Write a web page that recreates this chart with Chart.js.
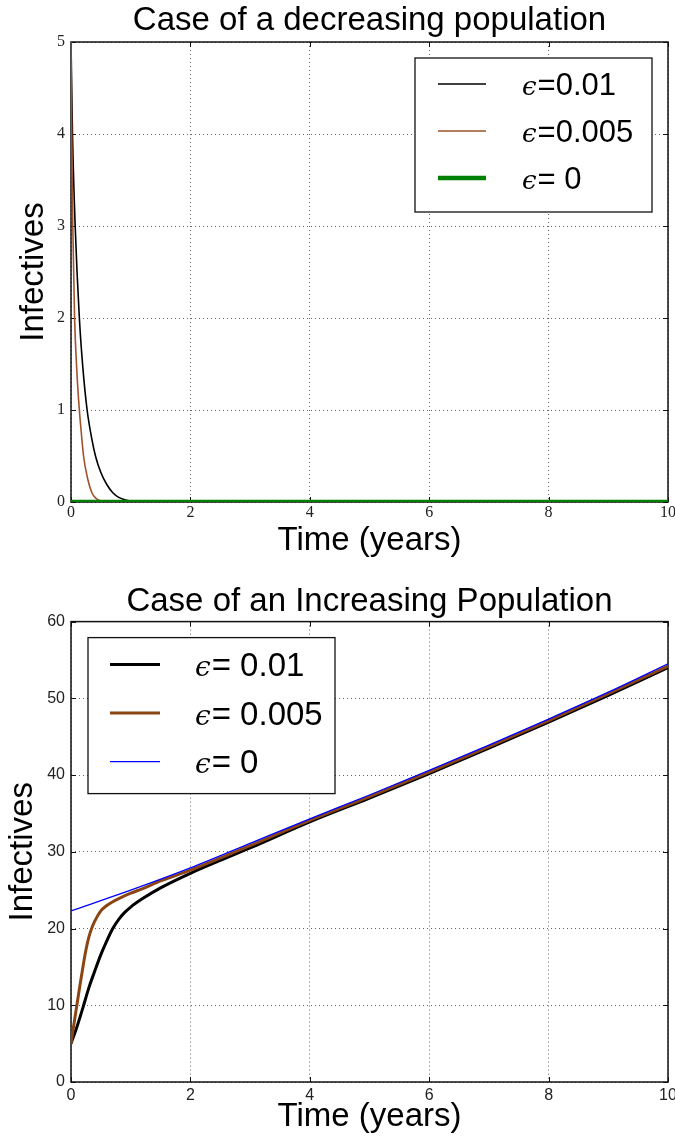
<!DOCTYPE html>
<html>
<head>
<meta charset="utf-8">
<script src="https://cdn.jsdelivr.net/npm/chart.js@4.4.1/dist/chart.umd.min.js"></script>
<style>
  html, body { margin: 0; padding: 0; background: #fff; }
  #wrap { position: relative; width: 675px; height: 1142px; }
  canvas { position: absolute; left: 0; }
  #decreasing { top: 0; }
  #increasing { top: 570px; }
</style>
</head>
<body>
<div id="wrap">
  <canvas id="decreasing" width="675" height="570"></canvas>
  <canvas id="increasing" width="675" height="572"></canvas>
</div>
<script>
// --- decreasing population ---
const decLabels = ['ϵ=0.01', 'ϵ=0.005', 'ϵ= 0'];
const decTime01 = [0, 0.025, 0.07, 0.14, 0.2, 0.27, 0.35, 0.41, 0.5, 0.6, 0.7, 0.8, 0.9, 1.0, 1.2, 2, 10];
const decInf01  = [5, 4, 3, 2, 1.45, 1, 0.68, 0.5, 0.32, 0.19, 0.1, 0.05, 0.025, 0.01, 0, 0, 0];
const decTime005 = [0, 0.012, 0.03, 0.06, 0.1, 0.14, 0.18, 0.21, 0.28, 0.35, 0.42, 0.5, 0.6, 2, 10];
const decInf005  = [5, 4, 3, 2, 1.4, 1, 0.7, 0.5, 0.25, 0.1, 0.04, 0.01, 0, 0, 0];
const decTime0 = [0, 10];
const decInf0  = [0, 0];

// --- increasing population ---
const incLabels = ['ϵ= 0.01', 'ϵ= 0.005', 'ϵ= 0'];
const incTime01 = [0, 0.1, 0.2, 0.3, 0.4, 0.5, 0.6, 0.7, 0.8, 0.9, 1.0, 1.2, 1.5, 2, 3, 4, 5, 6, 7, 8, 9, 10];
const incInf01  = [5, 7.2, 9.7, 12.3, 14.5, 16.6, 18.4, 20.0, 21.2, 22.1, 22.8, 23.9, 25.3, 27.2, 30.5, 33.9, 37.0, 40.2, 43.5, 46.9, 50.4, 54.0];
const incTime005 = [0, 0.05, 0.1, 0.15, 0.2, 0.25, 0.3, 0.35, 0.4, 0.5, 0.6, 0.7, 0.8, 1.0, 1.2, 1.5, 2, 3, 4, 5, 6, 7, 8, 9, 10];
const incInf005  = [5, 7.6, 10.1, 12.6, 15.0, 17.2, 18.9, 20.1, 21.0, 22.3, 23.0, 23.5, 23.9, 24.6, 25.2, 26.2, 27.6, 30.8, 34.1, 37.2, 40.4, 43.7, 47.1, 50.6, 54.2];
const incTime0 = [0, 1, 2, 3, 4, 5, 6, 7, 8, 9, 10];
const incInf0  = [22.3, 25.0, 27.9, 31.1, 34.3, 37.4, 40.6, 43.9, 47.3, 50.8, 54.5];

const timeTicks = { min: 0, max: 10, step: 2 };

const pts = (xs, ys) => xs.map((x, i) => ({ x: x, y: ys[i] }));

// box around the plot with small inward ticks on every side
const framePlugin = {
  id: 'frame',
  beforeDatasetsDraw(chart) {
    const { ctx, chartArea: a, scales } = chart;
    ctx.save();
    ctx.strokeStyle = '#111';
    ctx.lineWidth = 1;
    ctx.beginPath();
    scales.x.ticks.forEach(t => {
      const px = Math.round(scales.x.getPixelForValue(t.value)) + 0.5;
      ctx.moveTo(px, a.bottom); ctx.lineTo(px, a.bottom - 5);
      ctx.moveTo(px, a.top); ctx.lineTo(px, a.top + 5);
    });
    scales.y.ticks.forEach(t => {
      const py = Math.round(scales.y.getPixelForValue(t.value)) + 0.5;
      ctx.moveTo(a.left, py); ctx.lineTo(a.left + 5, py);
      ctx.moveTo(a.right, py); ctx.lineTo(a.right - 5, py);
    });
    ctx.stroke();
    ctx.lineWidth = 1.5;
    ctx.strokeRect(a.left, a.top, a.right - a.left, a.bottom - a.top);
    ctx.restore();
  }
};

// framed legend drawn inside the plot area
const boxLegend = {
  id: 'boxLegend',
  afterDraw(chart, args, o) {
    const { ctx, chartArea: a } = chart;
    const x0 = o.right != null ? a.right - o.right - o.width : a.left + o.left;
    const y0 = a.top + o.top;
    ctx.save();
    ctx.fillStyle = '#fff';
    ctx.fillRect(x0, y0, o.width, o.height);
    ctx.strokeStyle = '#111';
    ctx.lineWidth = 1.3;
    ctx.strokeRect(x0, y0, o.width, o.height);
    chart.data.datasets.forEach((ds, i) => {
      const y = y0 + o.firstRow + i * o.rowGap;
      ctx.strokeStyle = ds.borderColor;
      ctx.lineWidth = ds.borderWidth;
      ctx.beginPath();
      ctx.moveTo(x0 + o.sampleFrom, y);
      ctx.lineTo(x0 + o.sampleTo, y);
      ctx.stroke();
      const sym = ds.label[0];
      const rest = ds.label.slice(1);
      const base = y + o.size * 0.36;
      ctx.fillStyle = '#000';
      ctx.textBaseline = 'alphabetic';
      ctx.font = 'italic ' + Math.round(o.size * 0.85) + 'px "DejaVu Serif"';
      ctx.fillText(sym, x0 + o.textAt, base);
      const w = ctx.measureText(sym).width;
      ctx.font = o.size + 'px "Liberation Sans"';
      ctx.fillText(rest, x0 + o.textAt + w + 1, base);
    });
    ctx.restore();
  }
};

function makeOptions(cfg) {
  const grid = { color: 'rgba(0,0,0,0.6)', lineWidth: 1, drawTicks: false };
  const border = { display: false, dash: [1, 3] };
  return {
    responsive: false,
    animation: false,
    layout: { padding: { left: 0, right: 7, top: 0, bottom: 0 } },
    elements: {
      point: { radius: 0 },
      line: { cubicInterpolationMode: 'monotone', fill: false }
    },
    scales: {
      x: {
        type: 'linear',
        min: timeTicks.min, max: timeTicks.max,
        grid: grid, border: border,
        ticks: { stepSize: timeTicks.step, maxRotation: 0, color: '#222', font: cfg.tickFont, padding: cfg.xTickPad },
        title: {
          display: true, text: 'Time (years)', color: '#000',
          font: { family: 'Liberation Sans', size: 33, lineHeight: 1.2 },
          padding: { top: 0, bottom: cfg.xTitlePad }
        },
        afterFit(s) {
          s.height = cfg.xHeight;
          // let the last tick label run past the edge instead of shrinking the plot
          s.paddingLeft = 0;
          s.paddingRight = 0;
        }
      },
      y: {
        min: cfg.yMin, max: cfg.yMax,
        grid: grid, border: border,
        ticks: { stepSize: cfg.yStep, color: '#222', font: cfg.tickFont, padding: 6 },
        title: {
          display: true, text: 'Infectives', color: '#000',
          font: { family: 'Liberation Sans', size: 33, lineHeight: 1.2 },
          padding: { top: cfg.yTitlePad, bottom: 0 }
        },
        afterFit(s) { s.width = 71; }
      }
    },
    plugins: {
      legend: { display: false },
      tooltip: { enabled: false },
      title: {
        display: true, text: cfg.title, fullSize: false, color: '#000',
        font: { family: 'Liberation Sans', size: 33, weight: 'normal', lineHeight: 1.2 },
        padding: cfg.titlePad
      },
      boxLegend: cfg.legend
    }
  };
}

new Chart(document.getElementById('decreasing'), {
  type: 'line',
  data: {
    datasets: [
      { label: decLabels[0], data: pts(decTime01, decInf01), borderColor: '#000000', borderWidth: 1.6, order: 3 },
      { label: decLabels[1], data: pts(decTime005, decInf005), borderColor: '#a0522d', borderWidth: 1.6, order: 2 },
      { label: decLabels[2], data: pts(decTime0, decInf0), borderColor: '#008000', borderWidth: 4.5, order: 1 }
    ]
  },
  options: makeOptions({
    title: 'Case of a decreasing population',
    titlePad: { top: 1, bottom: 1.4 },
    tickFont: { family: 'Liberation Serif', size: 16 },
    xTickPad: 1, xTitlePad: 9, xHeight: 68, yTitlePad: 14,
    yMin: 0, yMax: 5, yStep: 1,
    legend: { right: 16, top: 16, width: 237, height: 154, firstRow: 26, rowGap: 47,
              sampleFrom: 23, sampleTo: 71, textAt: 107, size: 31 }
  }),
  plugins: [framePlugin, boxLegend]
});

new Chart(document.getElementById('increasing'), {
  type: 'line',
  data: {
    datasets: [
      { label: incLabels[0], data: pts(incTime01, incInf01), borderColor: '#000000', borderWidth: 3, order: 3 },
      { label: incLabels[1], data: pts(incTime005, incInf005), borderColor: '#8b4513', borderWidth: 3, order: 2 },
      { label: incLabels[2], data: pts(incTime0, incInf0), borderColor: '#0000ff', borderWidth: 1.3, order: 1 }
    ]
  },
  options: makeOptions({
    title: 'Case of an Increasing Population',
    titlePad: { top: 12, bottom: 0 },
    tickFont: { family: 'Liberation Sans', size: 16 },
    xTickPad: 4, xTitlePad: 5, xHeight: 60, yTitlePad: 3,
    yMin: 0, yMax: 60, yStep: 10,
    legend: { left: 17, top: 16, width: 247, height: 156, firstRow: 27, rowGap: 48.5,
              sampleFrom: 22, sampleTo: 72, textAt: 107, size: 33 }
  }),
  plugins: [framePlugin, boxLegend]
});
</script>
</body>
</html>
